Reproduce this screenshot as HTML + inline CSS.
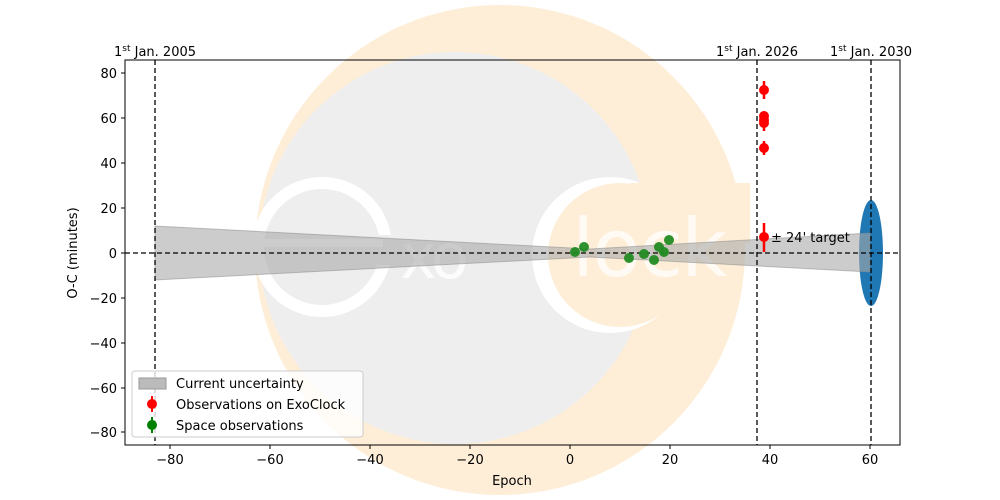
<!DOCTYPE html>
<html><head><style>body{margin:0;background:#fff}svg{display:block;font-family:"DejaVu Sans","Liberation Sans",sans-serif}</style></head><body>
<svg width="1000" height="500" viewBox="0 0 1000 500">
<rect width="1000" height="500" fill="#fff"/>
<!-- logo -->
<circle cx="500" cy="250" r="245" fill="#feeed8"/>
<circle cx="455" cy="248" r="196" fill="#eeeeee"/>
<circle cx="610" cy="255" r="78" fill="#fff"/>
<circle cx="620" cy="255" r="72" fill="#feeed8"/>
<rect x="630" y="183" width="120" height="60" fill="#feeed8"/>
<circle cx="322" cy="247" r="64" fill="none" stroke="#fff" stroke-width="12"/>
<rect x="378" y="235" width="30" height="30" fill="#eeeeee"/>
<rect x="263" y="239" width="120" height="8" fill="#fff"/>
<text x="400" y="278" font-size="62" fill="#fff" fill-opacity="0.8" style="letter-spacing:-4px">xo</text>
<text x="572" y="276" font-size="80" fill="#fff" fill-opacity="0.7" style="letter-spacing:-2px">lock</text>
<ellipse cx="871" cy="253" rx="12" ry="53" fill="#1f77b4"/>
<!-- band -->
<polygon points="155,226 590,249 870,233 870,272 590,257 155,280" fill="#aaaaaa" fill-opacity="0.6" stroke="#888" stroke-opacity="0.5"/>
<!-- dashed lines -->
<g stroke="#000" stroke-width="1.3" stroke-dasharray="5,3">
<line x1="155" y1="60" x2="155" y2="445"/>
<line x1="757" y1="60" x2="757" y2="445"/>
<line x1="871" y1="60" x2="871" y2="445"/>
<line x1="125" y1="253" x2="900" y2="253"/>
</g>
<!-- red -->
<g stroke="red" stroke-width="2.5" fill="red">
<line x1="764" y1="81" x2="764" y2="99"/><line x1="764" y1="112" x2="764" y2="131"/>
<line x1="764" y1="141" x2="764" y2="155"/><line x1="764" y1="223" x2="764" y2="252"/>
</g>
<g fill="red"><circle cx="764" cy="90" r="5"/><circle cx="764" cy="116" r="5"/><circle cx="764" cy="120" r="5"/><circle cx="764" cy="123" r="5"/><circle cx="764" cy="148" r="5"/><circle cx="764" cy="237" r="5"/></g>
<g fill="#228B22" fill-opacity="0.95"><circle cx="575" cy="252" r="5"/><circle cx="584" cy="247" r="5"/><circle cx="629" cy="258" r="5"/><circle cx="644" cy="254" r="5"/><circle cx="654" cy="260" r="5"/><circle cx="659" cy="247" r="5"/><circle cx="664" cy="252" r="5"/><circle cx="669" cy="240" r="5"/></g>
<text x="771" y="242" font-size="13">± 24' target</text>
<!-- axes -->
<rect x="125" y="60" width="775" height="385" fill="none" stroke="#000"/>
<g stroke="#000"><line x1="170" y1="445" x2="170" y2="449"/><line x1="270" y1="445" x2="270" y2="449"/><line x1="370" y1="445" x2="370" y2="449"/><line x1="470" y1="445" x2="470" y2="449"/><line x1="570" y1="445" x2="570" y2="449"/><line x1="670" y1="445" x2="670" y2="449"/><line x1="770" y1="445" x2="770" y2="449"/><line x1="870" y1="445" x2="870" y2="449"/>
<line x1="121" y1="73" x2="125" y2="73"/><line x1="121" y1="118" x2="125" y2="118"/><line x1="121" y1="163" x2="125" y2="163"/><line x1="121" y1="208" x2="125" y2="208"/><line x1="121" y1="253" x2="125" y2="253"/><line x1="121" y1="298" x2="125" y2="298"/><line x1="121" y1="343" x2="125" y2="343"/><line x1="121" y1="388" x2="125" y2="388"/><line x1="121" y1="432" x2="125" y2="432"/></g>
<g font-size="13" text-anchor="middle"><text x="170" y="464">−80</text><text x="270" y="464">−60</text><text x="370" y="464">−40</text><text x="470" y="464">−20</text><text x="570" y="464">0</text><text x="670" y="464">20</text><text x="770" y="464">40</text><text x="870" y="464">60</text>
<text x="512" y="485">Epoch</text></g>
<g font-size="13" text-anchor="end"><text x="117" y="78">80</text><text x="117" y="123">60</text><text x="117" y="168">40</text><text x="117" y="213">20</text><text x="117" y="258">0</text><text x="117" y="303">−20</text><text x="117" y="348">−40</text><text x="117" y="393">−60</text><text x="117" y="437">−80</text></g>
<text transform="translate(77,253) rotate(-90)" font-size="13" text-anchor="middle">O-C (minutes)</text>
<g font-size="13" text-anchor="middle"><text x="155" y="56">1<tspan font-size="9" dy="-5">st</tspan><tspan dy="5"> Jan. 2005</tspan></text><text x="757" y="56">1<tspan font-size="9" dy="-5">st</tspan><tspan dy="5"> Jan. 2026</tspan></text><text x="871" y="56">1<tspan font-size="9" dy="-5">st</tspan><tspan dy="5"> Jan. 2030</tspan></text></g>
<!-- legend -->
<rect x="132" y="371" width="231" height="66" rx="3" fill="#fff" fill-opacity="0.8" stroke="#ccc"/>
<rect x="139" y="378" width="27" height="11" fill="#bbb" stroke="#999"/>
<line x1="152" y1="396" x2="152" y2="412" stroke="red" stroke-width="2"/><circle cx="152" cy="404" r="5" fill="red"/>
<line x1="152" y1="417" x2="152" y2="433" stroke="green" stroke-width="2"/><circle cx="152" cy="425" r="5" fill="green"/>
<g font-size="13"><text x="176" y="388">Current uncertainty</text><text x="176" y="409">Observations on ExoClock</text><text x="176" y="430">Space observations</text></g>
</svg>
</body></html>
